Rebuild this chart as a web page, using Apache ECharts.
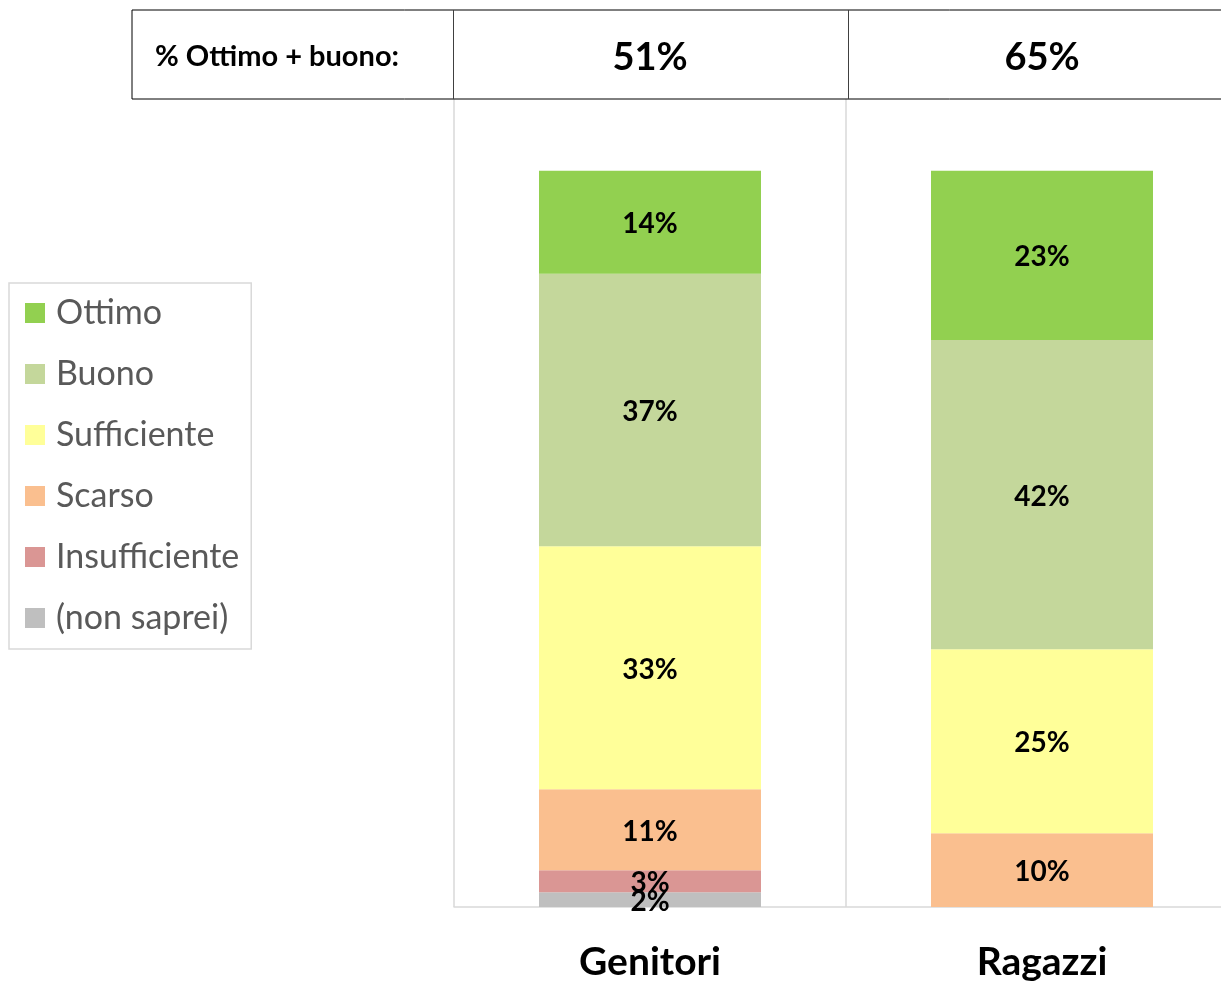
<!DOCTYPE html>
<html lang="it">
<head>
    <meta charset="UTF-8">
    <title>Ottimo + buono</title>
    <script src="https://cdn.jsdelivr.net/npm/echarts@6.0.0/dist/echarts.min.js"></script>
    <style>
        html, body { margin: 0; padding: 0; background: #fff; }
        #chart { width: 1221px; height: 982px; }
    </style>
</head>
<body>
    <div id="chart"></div>
    <script>
        // dati
        const categories = ['Genitori', 'Ragazzi'];
        const ottimo = [14, 23];
        const buono = [37, 42];
        const sufficiente = [33, 25];
        const scarso = [11, 10];
        const insufficiente = [3, 0];
        const nonSaprei = [2, 0];
        const headerLabel = '% Ottimo + buono:';

        const FONT = 'Lato, "Open Sans", sans-serif';

        // ordine dal basso verso l'alto
        const stackDefs = [
            { name: '(non saprei)', data: nonSaprei, color: '#BFBFBF' },
            { name: 'Insufficiente', data: insufficiente, color: '#DA9694' },
            { name: 'Scarso', data: scarso, color: '#FABF8F' },
            { name: 'Sufficiente', data: sufficiente, color: '#FFFF99' },
            { name: 'Buono', data: buono, color: '#C4D79B' },
            { name: 'Ottimo', data: ottimo, color: '#92D050' }
        ];

        const series = stackDefs.map(s => ({
            name: s.name,
            type: 'bar',
            stack: 'tot',
            barWidth: 222,
            data: s.data,
            itemStyle: { color: s.color },
            label: {
                show: true,
                position: 'inside',
                offset: [0, 2],
                color: '#000',
                fontFamily: FONT,
                fontWeight: 'bold',
                fontSize: 28,
                formatter: p => p.value > 0 ? p.value + '%' : ''
            }
        }));

        const chart = echarts.init(document.getElementById('chart'));
        chart.setOption({
            animation: false,
            legend: {
                orient: 'vertical',
                left: 9,
                top: 283,
                data: ['Ottimo', 'Buono', 'Sufficiente', 'Scarso', 'Insufficiente', '(non saprei)'],
                icon: 'rect',
                itemWidth: 20,
                itemHeight: 20,
                itemGap: 27,
                padding: [13, 12, 14, 16],
                borderColor: '#D9D9D9',
                borderWidth: 1.5,
                selectedMode: false,
                textStyle: {
                    fontFamily: FONT,
                    fontSize: 34,
                    lineHeight: 34,
                    color: '#595959',
                    padding: [0, 0, 0, 6]
                }
            },
            grid: { left: 454, top: 97, width: 784, bottom: 75, outerBoundsMode: 'none' },
            xAxis: {
                type: 'category',
                data: categories,
                axisLine: { lineStyle: { color: '#D9D9D9', width: 1.5 } },
                axisTick: { show: false },
                splitLine: { show: true, lineStyle: { color: '#D9D9D9', width: 1.5 } },
                axisLabel: {
                    color: '#000',
                    fontFamily: FONT,
                    fontWeight: 'bold',
                    fontSize: 39,
                    margin: 36
                }
            },
            yAxis: { type: 'value', min: 0, max: 110, show: false },
            series: series
        });

        // tabella in alto: % ottimo + buono
        const sums = categories.map((c, i) => ottimo[i] + buono[i]);
        const graphics = [
            { type: 'rect', shape: { x: 132, y: 10, width: 1120, height: 89 },
              style: { fill: '#fff', stroke: '#000', lineWidth: 1 }, z: 10 },
            { type: 'line', shape: { x1: 453.5, y1: 10, x2: 453.5, y2: 99 },
              style: { stroke: '#404040', lineWidth: 1 }, z: 11 },
            { type: 'line', shape: { x1: 848.5, y1: 10, x2: 848.5, y2: 99 },
              style: { stroke: '#404040', lineWidth: 1 }, z: 11 },
            { type: 'text', x: 277, y: 57, z: 12,
              style: { text: headerLabel, fontFamily: FONT, fontWeight: 'bold', fontSize: 29,
                       fill: '#000', align: 'center', verticalAlign: 'middle' } }
        ];
        categories.forEach((c, i) => {
            const px = chart.convertToPixel({ xAxisIndex: 0 }, c);
            graphics.push({ type: 'text', x: px, y: 58, z: 12,
                style: { text: sums[i] + '%', fontFamily: FONT, fontWeight: 'bold', fontSize: 38,
                         fill: '#000', align: 'center', verticalAlign: 'middle' } });
        });
        chart.setOption({ graphic: graphics });
    </script>
</body>
</html>
